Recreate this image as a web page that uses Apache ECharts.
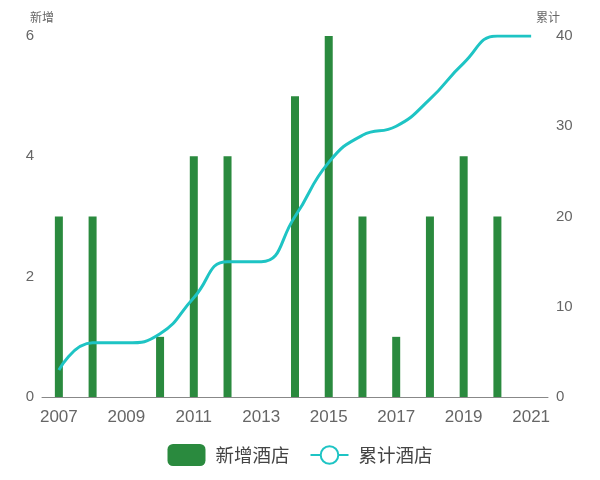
<!DOCTYPE html>
<html>
<head>
<meta charset="utf-8">
<script src="https://cdn.jsdelivr.net/npm/echarts@6/dist/echarts.min.js"></script>
<style>html,body{margin:0;padding:0;background:#fff}#c{width:600px;height:480px}</style>
</head>
<body>
<div id="c"></div>
<script>
const years = ['2007','2008','2009','2010','2011','2012','2013','2014','2015','2016','2017','2018','2019','2020','2021'];
const newHotels = [3,3,0,1,4,4,0,5,6,3,1,3,4,3,0];
const totalHotels = [3,6,6,7,11,15,15,20,26,29,30,33,37,40,40];
const leftTicks = [0,2,4,6];
const rightTicks = [0,10,20,30,40];

const font = '"Liberation Sans", "Noto Sans CJK SC", sans-serif';
const cjk = '"Noto Sans CJK SC", sans-serif';
const chart = echarts.init(document.getElementById('c'));
chart.setOption({
  animation: false,
  textStyle: {fontFamily: font},
  grid: {left: 42, right: 52, top: 36, bottom: 83},
  legend: {
    bottom: 9, left: 'center',
    itemWidth: 38, itemHeight: 22, itemGap: 20,
    textStyle: {fontSize: 18.5, color: '#444', fontFamily: cjk, padding: [0, 0, 0, 5]},
    data: [
      {name: '新增酒店', icon: 'roundRect'},
      {name: '累计酒店'}
    ]
  },
  xAxis: {
    type: 'category',
    data: years,
    boundaryGap: true,
    axisLine: {lineStyle: {color: '#888', width: 1}},
    axisTick: {lineStyle: {color: '#888'}, length: 5},
    axisLabel: {interval: 1, fontSize: 17, color: '#666', margin: 12, fontFamily: font}
  },
  yAxis: [
    {
      type: 'value', min: leftTicks[0], max: leftTicks[leftTicks.length-1], interval: 2,
      name: '新增', nameGap: 13,
      nameTextStyle: {fontSize: 12, color: '#666', align: 'right', padding: [0, -12, 0, 0], fontFamily: cjk},
      axisLine: {show: false}, axisTick: {show: false}, splitLine: {show: false},
      axisLabel: {fontSize: 15, color: '#666', margin: 8}
    },
    {
      type: 'value', min: rightTicks[0], max: rightTicks[rightTicks.length-1], interval: 10,
      name: '累计', nameGap: 13,
      nameTextStyle: {fontSize: 12, color: '#666', align: 'left', padding: [0, 0, 0, -12], fontFamily: cjk},
      axisLine: {show: false}, axisTick: {show: false}, splitLine: {show: false},
      axisLabel: {fontSize: 15, color: '#666', margin: 8}
    }
  ],
  series: [
    {
      name: '新增酒店', type: 'bar', yAxisIndex: 0,
      data: newHotels, barWidth: 8,
      itemStyle: {color: '#2a8a3e'}
    },
    {
      name: '累计酒店', type: 'line', yAxisIndex: 1,
      data: totalHotels, smooth: true, showSymbol: false,
      symbol: 'emptyCircle', symbolSize: 14,
      lineStyle: {width: 3, color: '#1ec4c4'},
      itemStyle: {color: '#1ec4c4', borderWidth: 3}
    }
  ]
});
</script>
</body>
</html>
